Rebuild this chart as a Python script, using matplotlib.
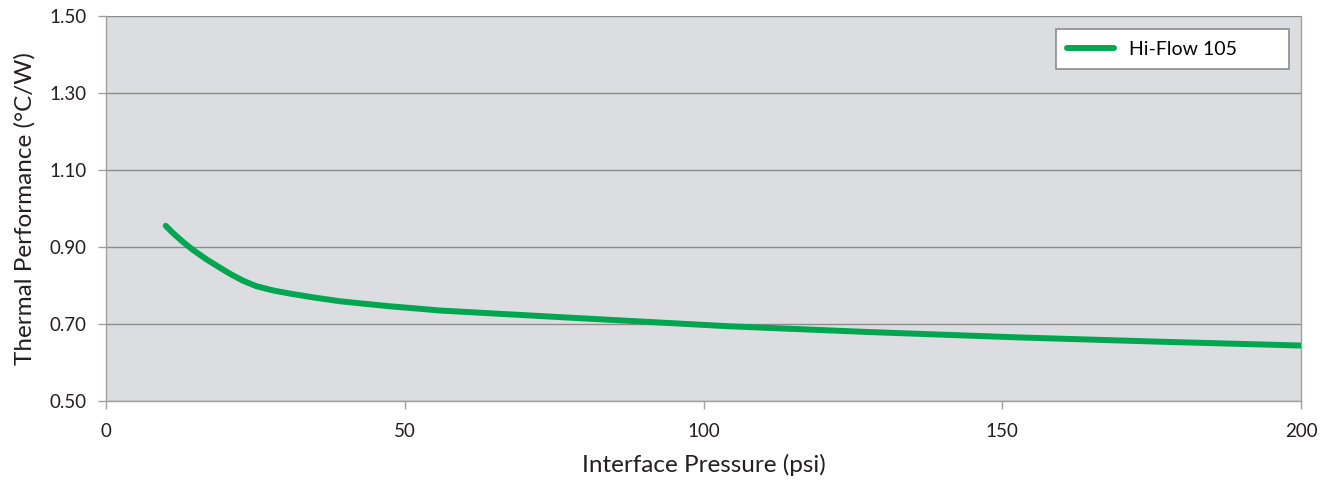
import matplotlib.pyplot as plt

# Hi-Flow 105 thermal performance vs pressure
pressure = [10, 11.3, 12.9, 14.6, 16.9, 19.1, 20.8, 23.0, 25.2, 28.0, 30.8, 34.7, 39.2, 43.6,
            47.5, 51.4, 55.9, 79.3, 104.4, 127.9, 153, 176.4, 200]
thermal = [0.955, 0.935, 0.913, 0.892, 0.867, 0.846, 0.830, 0.812, 0.798, 0.787, 0.779, 0.769,
           0.759, 0.752, 0.746, 0.741, 0.735, 0.715, 0.694, 0.679, 0.665, 0.654, 0.644]
x_ticks = [0, 50, 100, 150, 200]
y_ticks = [0.50, 0.70, 0.90, 1.10, 1.30, 1.50]

plt.rcParams['font.family'] = ['Lato', 'DejaVu Sans']
text_color = '#231f20'
grid_color = '#8c8c8c'

fig = plt.figure(figsize=(13.31, 4.84), dpi=100)
ax = fig.add_axes([0.0796, 0.1715, 0.8979, 0.7955])
ax.set_facecolor('#dcdde0')

ax.plot(pressure, thermal, color='#00a650', linewidth=4.3, solid_capstyle='round',
        solid_joinstyle='round', label='Hi-Flow 105', zorder=3)

ax.set_xlim(0, 200)
ax.set_ylim(0.5, 1.5)
ax.set_xticks(x_ticks)
ax.set_yticks(y_ticks)
ax.set_yticklabels([f'{v:.2f}' for v in y_ticks])
ax.grid(axis='y', color=grid_color, linewidth=1)
ax.set_axisbelow(True)

for s in ax.spines.values():
    s.set_color('#a0a0a0')
    s.set_linewidth(1)
ax.spines['top'].set_visible(False)

ax.tick_params(axis='both', colors='#a0a0a0', labelcolor=text_color, labelsize=13.5,
               length=6, width=1)
ax.tick_params(axis='x', pad=10)
ax.tick_params(axis='y', pad=8)

ax.set_xlabel('Interface Pressure (psi)', fontsize=17.5, color=text_color, labelpad=10)
ax.set_ylabel('Thermal Performance (°C/W)', fontsize=17.5, color=text_color, labelpad=10)

# trailing spaces give the wide right padding of the original legend box
leg = ax.legend(loc='upper right', bbox_to_anchor=(0.99, 0.966), fontsize=14,
                fancybox=False, framealpha=1, edgecolor='#8c8c8c', handlelength=2.4,
                borderpad=0.6, handletextpad=0.8, borderaxespad=0)
leg.get_texts()[0].set_text('Hi-Flow 105        ')
leg.get_frame().set_linewidth(1.2)
leg.set_zorder(5)

fig.savefig('out.png', dpi=100)
